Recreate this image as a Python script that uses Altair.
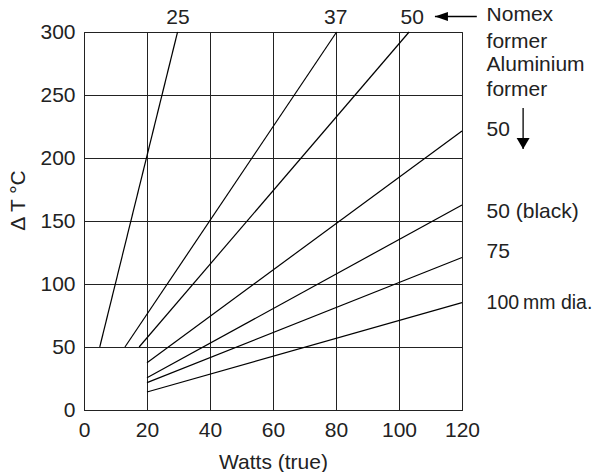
import altair as alt
import pandas as pd

FONT = "Liberation Sans"
FS = 21

# ---- data lines (two end points each) ----
series = ["25", "37", "50 Nomex", "50 Al", "50 black", "75", "100"]
x_start = [5, 13, 17.5, 20, 20, 20, 20]
y_start = [50, 50, 50, 37.5, 25.6, 21.7, 14.3]
x_end = [29.7, 80.2, 103.2, 120, 120, 120, 120]
y_end = [300, 300, 300, 221.5, 162.7, 121, 85.2]

# ---- top labels ----
top_text = ["25", "37", "50"]
top_x = [29.8, 79.9, 104.2]
top_y = [306.3, 306.3, 306.3]

# ---- right labels ----
right_text = ["Nomex", "former", "Aluminium", "former", "50",
              "50 (black)", "75", "100\u2009mm dia."]
right_x = [127.8] * 8
right_y = [313.5, 292.3, 273.8, 254, 222.2, 157.4, 125.6, 84.9]
right_size = [FS] * 7 + [19.5]

# ---- arrows ----
arrow_x = [111.4, 139.4]
arrow_x2 = [124.7, 139.4]
arrow_y = [312.3, 207.1]
arrow_y2 = [312.3, 239.7]

rows = []
for s, xa, ya, xb, yb in zip(series, x_start, y_start, x_end, y_end):
    rows.append({"series": s, "x": xa, "y": ya, "o": 0})
    rows.append({"series": s, "x": xb, "y": yb, "o": 1})
lines_df = pd.DataFrame(rows)

xs = alt.Scale(domain=[0, 120], nice=False, zero=False)
ys = alt.Scale(domain=[0, 300], nice=False, zero=False)

lines = alt.Chart(lines_df).mark_line(color="black", strokeWidth=1.2).encode(
    x=alt.X("x:Q", scale=xs, title="Watts (true)",
            axis=alt.Axis(values=[0, 20, 40, 60, 80, 100, 120], ticks=False,
                          labelPadding=9, grid=True, gridColor="#222",
                          gridOpacity=1, domainColor="#222",
                          labelFlush=False, labelOverlap=False,
                          titleY=52, titleBaseline="middle")),
    y=alt.Y("y:Q", scale=ys, title="\u0394 T \u00b0C",
            axis=alt.Axis(values=[0, 50, 100, 150, 200, 250, 300], ticks=False,
                          labelPadding=9, grid=True, gridColor="#222",
                          gridOpacity=1, domainColor="#222",
                          labelFlush=False, labelOverlap=False,
                          titleAngle=270, titleX=-66, titleY=168,
                          titleBaseline="middle", titleAlign="center")),
    detail="series:N",
    order="o:Q",
)

top_df = pd.DataFrame({"t": top_text, "x": top_x, "y": top_y})
top = alt.Chart(top_df).mark_text(font=FONT, fontSize=FS, color="#222",
                                  align="center", baseline="alphabetic").encode(
    x=alt.X("x:Q", scale=xs), y=alt.Y("y:Q", scale=ys), text="t:N")

right_df = pd.DataFrame({"t": right_text, "x": right_x, "y": right_y,
                         "fs": right_size})
right = alt.Chart(right_df).mark_text(font=FONT, color="#222",
                                      align="left", baseline="middle").encode(
    x=alt.X("x:Q", scale=xs), y=alt.Y("y:Q", scale=ys), text="t:N",
    size=alt.Size("fs:Q", scale=None, legend=None))

arr_df = pd.DataFrame({"x": arrow_x, "x2": arrow_x2, "y": arrow_y, "y2": arrow_y2,
                       "shape": ["M0,0L2,-0.7L2,0.7Z", "M0,0L-1,-1.7L1,-1.7Z"]})
arrow_lines = alt.Chart(arr_df).mark_rule(color="black", strokeWidth=1.3).encode(
    x=alt.X("x:Q", scale=xs), x2="x2:Q",
    y=alt.Y("y:Q", scale=ys), y2="y2:Q")
heads = alt.Chart(arr_df).mark_point(filled=True, color="black", opacity=1,
                                     size=169, strokeWidth=0).encode(
    x=alt.X("x:Q", scale=xs), y=alt.Y("y:Q", scale=ys),
    shape=alt.Shape("shape:N", scale=None))

chart = alt.layer(lines, top, right, arrow_lines, heads).properties(
    width=378, height=378,
    background="white",
    autosize=alt.AutoSizeParams(type="none"),
    padding={"left": 76, "top": 24, "right": 130, "bottom": 62},
).configure_view(stroke="#222", strokeWidth=1).configure_axis(
    labelFont=FONT, titleFont=FONT, labelFontSize=FS, titleFontSize=FS,
    labelColor="#222", titleColor="#222", titleFontWeight="normal",
)

chart.save("out.html", embed_options={"renderer": "svg", "actions": False})
